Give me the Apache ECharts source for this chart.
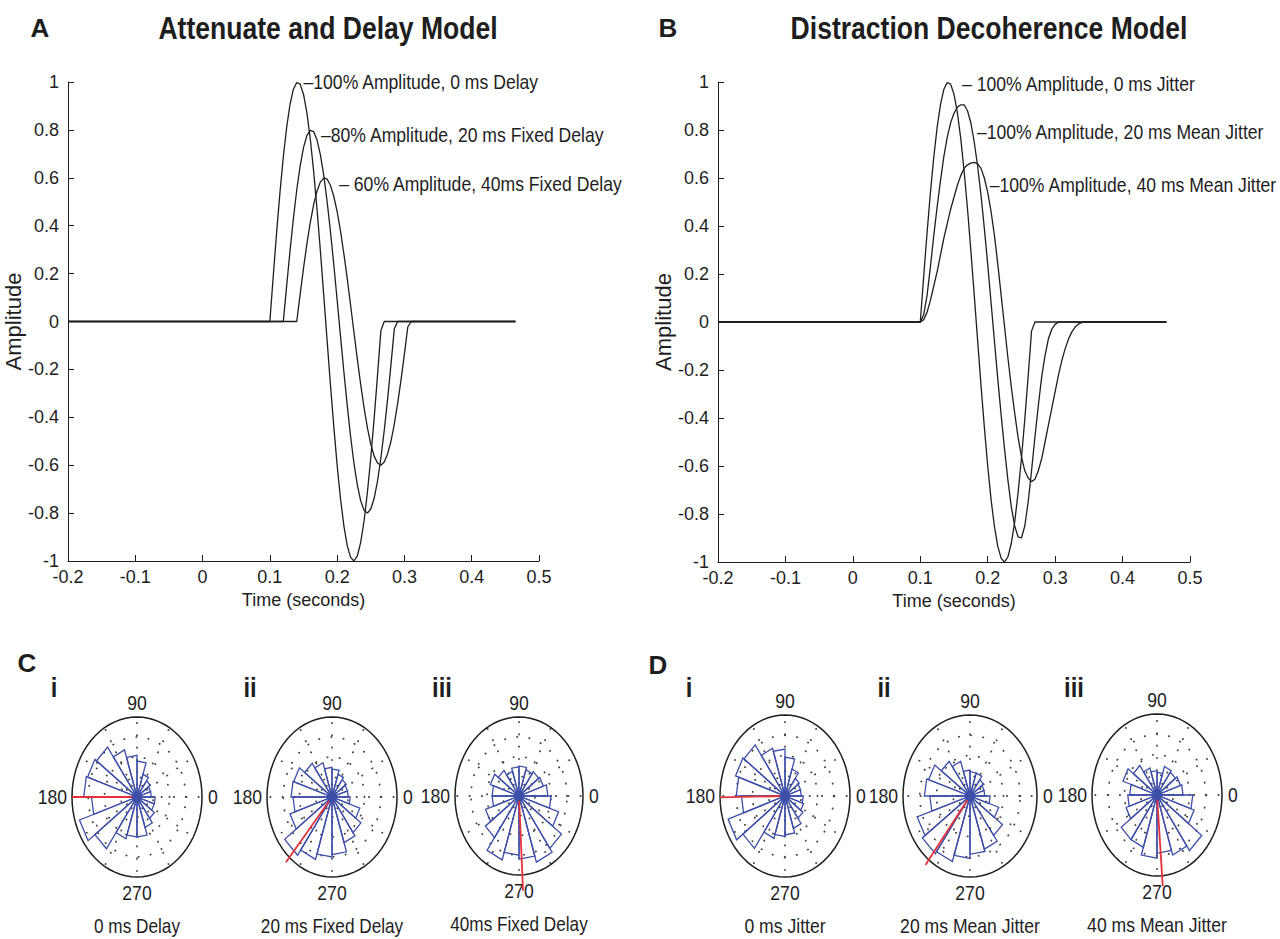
<!DOCTYPE html>
<html><head><meta charset="utf-8">
<script src="https://cdn.jsdelivr.net/npm/echarts@6/dist/echarts.min.js"></script>
<style>html,body{margin:0;padding:0;background:#fff}#c{width:1280px;height:939px}</style>
</head><body><div id="c"></div>
<script>
// ---------- DATA ----------
const timeTicks = [-0.2, -0.1, 0, 0.1, 0.2, 0.3, 0.4, 0.5];
const ampTicks = [-1, -0.8, -0.6, -0.4, -0.2, 0, 0.2, 0.4, 0.6, 0.8, 1];
const baselineStart = -0.2, baselineEnd = 0.465;
const waveTime = [0.100,0.105,0.110,0.115,0.120,0.125,0.130,0.135,0.140,0.145,
  0.150,0.155,0.160,0.165,0.170,0.175,0.180,0.185,0.190,0.195,
  0.200,0.205,0.210,0.215,0.220,0.225,0.230,0.235,0.240,0.245,
  0.250,0.255,0.260,0.265,0.270,0.275,0.280,0.285,0.290,0.295,
  0.300,0.305,0.310,0.315,0.320,0.325,0.330,0.335,0.340,0.345];
// A: Attenuate and Delay
const waveA1 = [0,0.188,0.370,0.538,0.687,0.811,0.907,0.970,0.998,0.991,
  0.949,0.872,0.765,0.629,0.472,0.298,0.113,-0.076,-0.262,-0.438,
  -0.600,-0.740,-0.853,-0.936,-0.985,-1.000,-0.979,-0.922,-0.833,-0.713,
  -0.569,-0.405,-0.225,-0.038,0,0,0,0,0,0, 0,0,0,0,0,0,0,0,0,0];
const waveA2 = [0,0,0,0,0,0.150,0.296,0.430,0.550,0.649,
  0.726,0.776,0.798,0.793,0.759,0.698,0.612,0.503,0.378,0.238,
  0.090,-0.061,-0.210,-0.350,-0.480,-0.592,-0.682,-0.749,-0.788,-0.800,
  -0.783,-0.738,-0.666,-0.570,-0.455,-0.324,-0.180,-0.030,0,0, 0,0,0,0,0,0,0,0,0,0];
const waveA3 = [0,0,0,0,0,0,0,0,0,0.113,
  0.222,0.323,0.412,0.487,0.544,0.582,0.599,0.595,0.569,0.523,
  0.459,0.377,0.283,0.179,0.068,-0.046,-0.157,-0.263,-0.360,-0.444,
  -0.512,-0.562,-0.591,-0.600,-0.587,-0.553,-0.500,-0.428,-0.341,-0.243,
  -0.135,-0.023,0,0,0,0,0,0,0,0];
// B: Distraction Decoherence
const waveB1 = [0,0.188,0.370,0.538,0.687,0.811,0.907,0.970,0.998,0.991,
  0.949,0.872,0.765,0.629,0.472,0.298,0.113,-0.076,-0.262,-0.438,
  -0.600,-0.740,-0.853,-0.936,-0.985,-1.000,-0.979,-0.922,-0.833,-0.713,
  -0.569,-0.405,-0.225,-0.038,0,0,0,0,0,0, 0,0,0,0,0,0,0,0,0,0];
const waveB2 = [0,0.03,0.11,0.23,0.36,0.48,0.59,0.69,0.77,0.83,
  0.87,0.895,0.905,0.905,0.88,0.83,0.75,0.65,0.53,0.39,
  0.24,0.08,-0.08,-0.24,-0.39,-0.53,-0.66,-0.77,-0.85,-0.895,
  -0.90,-0.85,-0.75,-0.62,-0.48,-0.35,-0.23,-0.14,-0.07,-0.03,
  -0.01,0,0,0,0,0,0,0,0,0];
const waveB3 = [0,0.01,0.04,0.09,0.15,0.21,0.28,0.35,0.41,0.47,
  0.52,0.57,0.61,0.64,0.655,0.662,0.665,0.66,0.64,0.60,
  0.54,0.46,0.36,0.24,0.11,-0.02,-0.15,-0.27,-0.38,-0.48,
  -0.56,-0.62,-0.65,-0.665,-0.655,-0.62,-0.57,-0.50,-0.43,-0.36,
  -0.29,-0.22,-0.16,-0.11,-0.07,-0.04,-0.02,-0.008,-0.002,0];
const annotA = ['\u2013100% Amplitude, 0 ms Delay', '\u201380% Amplitude, 20 ms Fixed Delay', '\u2013 60% Amplitude, 40ms Fixed Delay'];
const annotB = ['\u2013 100% Amplitude, 0 ms Jitter', '\u2013100% Amplitude, 20 ms Mean Jitter', '\u2013100% Amplitude, 40 ms Mean Jitter'];
// Rose histograms: 20 bins of 18 deg starting at 0 deg, radius relative to plot radius
const roseBinDeg = 18;
const roseCi   = [0.22,0.22,0.25,0.30,0.45,0.52,0.62,0.77,0.80,0.82,0.70,0.93,0.80,0.55,0.50,0.50,0.40,0.33,0.28,0.28];
const roseCii  = [0.25,0.25,0.27,0.30,0.35,0.37,0.45,0.52,0.62,0.63,0.60,0.68,0.90,0.82,0.75,0.72,0.60,0.55,0.45,0.28];
const roseCiii = [0.45,0.40,0.38,0.35,0.38,0.37,0.33,0.40,0.47,0.42,0.42,0.55,0.65,0.85,0.75,0.80,0.88,0.82,0.65,0.50];
const roseDi   = [0.25,0.25,0.27,0.35,0.48,0.58,0.62,0.78,0.80,0.75,0.67,0.92,0.80,0.55,0.50,0.48,0.42,0.34,0.30,0.28];
const roseDii  = [0.22,0.22,0.25,0.30,0.30,0.32,0.45,0.53,0.65,0.68,0.60,0.83,0.88,0.85,0.77,0.72,0.69,0.60,0.45,0.30];
const roseDiii = [0.40,0.38,0.35,0.37,0.28,0.30,0.35,0.45,0.55,0.42,0.45,0.50,0.68,0.68,0.78,0.72,0.78,0.85,0.60,0.55];
const meanAngle = [180, 229, 273, 181, 232, 274.5];
const meanLength = [1.0, 1.08, 1.2, 1.0, 1.08, 1.13];
const angleLabels = ['0', '90', '180', '270'];
const captions = ['0 ms Delay', '20 ms Fixed Delay', '40ms Fixed Delay', '0 ms Jitter', '20 ms Mean Jitter', '40 ms Mean Jitter'];
const subLabels = ['i', 'ii', 'iii', 'i', 'ii', 'iii'];

// ---------- STYLE / LAYOUT ----------
const D = Math.PI / 180;
const INK = '#1e1e1e', BLUE = '#3d4ea8', RED = '#e4323c', DOT = '#444';
const SANS = "'Liberation Sans',Arial,sans-serif";
const SQ = 0.88; // horizontal squeeze of the original figure's lettering
const roses = [roseCi, roseCii, roseCiii, roseDi, roseDii, roseDiii];
const boxes = [[137,797,65,80],[332,797,65,80],[519,796,64,79],[785,796,65,81],[970,796,67,81],[1157,795,65,81]];
const subPos = [[54,687],[250,687],[442,687],[689,687],[884,687],[1074,687]];
const annotAnchorA = [[0.150, 1.0], [0.176, 0.78], [0.203, 0.575]];
const annotAnchorB = [[0.162, 0.99], [0.184, 0.79], [0.203, 0.57]];

function txt(x, y, text, align, font, sx) {
  return { type: 'text', x: x, y: y, scaleX: sx || 1, silent: true,
    style: { text: text, fill: INK, font: font, align: align, verticalAlign: 'middle',
             textAlign: align, textVerticalAlign: 'middle' } };
}
function lineData(vals) {
  const out = [[baselineStart, 0]];
  waveTime.forEach((t, i) => out.push([t, vals[i]]));
  out.push([baselineEnd, 0]);
  return out;
}
function waveSeries(vals, idx) {
  return {
    type: 'line', xAxisIndex: idx, yAxisIndex: idx, data: lineData(vals),
    symbol: 'none', silent: true, lineStyle: { color: INK, width: 1.3 }
  };
}
function annotSeries(idx, texts, anchors) {
  return {
    type: 'custom', xAxisIndex: idx, yAxisIndex: idx, clip: false, silent: true,
    data: anchors.map((a, i) => [a[0], a[1], i]),
    renderItem: (params, api) => {
      const p = api.coord([api.value(0), api.value(1)]);
      return txt(p[0], p[1], texts[api.value(2)], 'left', "20px " + SANS, SQ);
    }
  };
}
function mainX(idx) {
  return {
    gridIndex: idx, type: 'value', min: timeTicks[0], max: timeTicks[timeTicks.length - 1], interval: 0.1,
    name: 'Time (seconds)', nameLocation: 'middle', nameGap: 28,
    nameTextStyle: { color: INK, fontSize: 18, fontFamily: SANS },
    axisLine: { show: true, onZero: false, lineStyle: { color: INK, width: 1 } },
    axisTick: { show: true, inside: true, length: 6, lineStyle: { color: INK } },
    axisLabel: { color: INK, fontSize: 18, fontFamily: SANS, margin: 7,
                 formatter: v => String(+v.toFixed(1)) },
    splitLine: { show: false }
  };
}
function mainY(idx, gap) {
  return {
    gridIndex: idx, type: 'value', min: ampTicks[0], max: ampTicks[ampTicks.length - 1], interval: 0.2,
    name: 'Amplitude', nameLocation: 'middle', nameGap: gap,
    nameTextStyle: { color: INK, fontSize: 22, fontFamily: SANS },
    axisLine: { show: true, onZero: false, lineStyle: { color: INK, width: 1 } },
    axisTick: { show: true, inside: true, length: 6, lineStyle: { color: INK } },
    axisLabel: { color: INK, fontSize: 18, fontFamily: SANS, margin: 9,
                 formatter: v => String(+v.toFixed(1)) },
    splitLine: { show: false }
  };
}
function ellipsePts(api, r) {
  const pts = [];
  for (let a = 0; a <= 360; a += 5) pts.push(api.coord([r * Math.cos(a * D), r * Math.sin(a * D)]));
  return pts;
}
const dotStyle = { stroke: DOT, lineWidth: 1.8, lineDash: [0.3, 12], lineCap: 'round', fill: 'none' };
function frameSeries(k) {
  return {
    type: 'custom', xAxisIndex: 2 + k, yAxisIndex: 2 + k, clip: false, silent: true,
    data: [[0, 0]],
    renderItem: (params, api) => {
      const ch = [];
      const c = api.coord([0, 0]);
      for (let a = 0; a < 360; a += 30) {
        const p = api.coord([Math.cos(a * D), Math.sin(a * D)]);
        ch.push({ type: 'line', shape: { x1: c[0], y1: c[1], x2: p[0], y2: p[1] }, style: dotStyle });
      }
      [0.25, 0.5, 0.75].forEach(r => ch.push({ type: 'polyline', shape: { points: ellipsePts(api, r) }, style: dotStyle }));
      ch.push({ type: 'polyline', shape: { points: ellipsePts(api, 1) }, style: { stroke: INK, lineWidth: 1.5, fill: 'none' } });
      const top = api.coord([0, 1]), bot = api.coord([0, -1]), lft = api.coord([-1, 0]), rgt = api.coord([1, 0]);
      const f = "20px " + SANS;
      ch.push(txt(top[0], top[1] - 14, angleLabels[1], 'center', f, SQ));
      ch.push(txt(bot[0], bot[1] + 16, angleLabels[3], 'center', f, SQ));
      ch.push(txt(lft[0] - 5, lft[1], angleLabels[2], 'right', f, SQ));
      ch.push(txt(rgt[0] + 6, rgt[1], angleLabels[0], 'left', f, SQ));
      ch.push(txt(bot[0], bot[1] + 49, captions[k], 'center', "20px " + SANS, k < 3 ? 0.86 : 0.88));
      return { type: 'group', children: ch };
    }
  };
}
function roseSeries(k) {
  return {
    type: 'custom', xAxisIndex: 2 + k, yAxisIndex: 2 + k, clip: false, silent: true,
    data: roses[k].map((r, i) => [i, r]),
    renderItem: (params, api) => {
      const i = api.value(0), r = api.value(1);
      const a1 = i * roseBinDeg * D, a2 = (i + 1) * roseBinDeg * D;
      return { type: 'polygon', shape: { points: [api.coord([0, 0]),
        api.coord([r * Math.cos(a1), r * Math.sin(a1)]), api.coord([r * Math.cos(a2), r * Math.sin(a2)])] },
        style: { fill: 'none', stroke: BLUE, lineWidth: 1.3 } };
    }
  };
}
function meanSeries(k) {
  return {
    type: 'custom', xAxisIndex: 2 + k, yAxisIndex: 2 + k, clip: false, silent: true,
    data: [[meanAngle[k], meanLength[k]]],
    renderItem: (params, api) => {
      const a = api.value(0) * D, L = api.value(1);
      const c = api.coord([0, 0]), p = api.coord([L * Math.cos(a), L * Math.sin(a)]);
      return { type: 'group', children: [
        { type: 'line', shape: { x1: c[0], y1: c[1], x2: p[0], y2: p[1] }, style: { stroke: RED, lineWidth: 1.8 } },
        { type: 'circle', shape: { cx: c[0], cy: c[1], r: 5 }, style: { fill: BLUE } }
      ] };
    }
  };
}

const grids = [
  { left: 68, top: 82, width: 471, height: 479 },
  { left: 718, top: 82, width: 472, height: 480 }
];
const xAxes = [mainX(0), mainX(1)], yAxes = [mainY(0, 33), mainY(1, 30)];
const series = [
  waveSeries(waveA1, 0), waveSeries(waveA2, 0), waveSeries(waveA3, 0),
  waveSeries(waveB1, 1), waveSeries(waveB2, 1), waveSeries(waveB3, 1),
  annotSeries(0, annotA, annotAnchorA), annotSeries(1, annotB, annotAnchorB)
];
boxes.forEach((b, k) => {
  grids.push({ left: b[0] - b[2], top: b[1] - b[3], width: 2 * b[2], height: 2 * b[3] });
  xAxes.push({ gridIndex: 2 + k, type: 'value', min: -1, max: 1, show: false });
  yAxes.push({ gridIndex: 2 + k, type: 'value', min: -1, max: 1, show: false });
  series.push(frameSeries(k), roseSeries(k), meanSeries(k));
});

const graphic = [
  txt(40, 28, 'A', 'center', "bold 26px " + SANS),
  txt(668, 28, 'B', 'center', "bold 26px " + SANS),
  txt(328, 28, 'Attenuate and Delay Model', 'center', "bold 32px " + SANS, 0.83),
  txt(989, 28, 'Distraction Decoherence Model', 'center', "bold 32px " + SANS, 0.83),
  txt(27, 663, 'C', 'center', "bold 26px " + SANS),
  txt(658, 665, 'D', 'center', "bold 26px " + SANS)
].concat(subLabels.map((s, k) => txt(subPos[k][0], subPos[k][1], s, 'center', "bold 28px " + SANS, 0.85)));

const chart = echarts.init(document.getElementById('c'), null, { renderer: 'svg' });
chart.setOption({
  backgroundColor: '#fff', animation: false,
  grid: grids, xAxis: xAxes, yAxis: yAxes, series: series, graphic: graphic
});
</script></body></html>
